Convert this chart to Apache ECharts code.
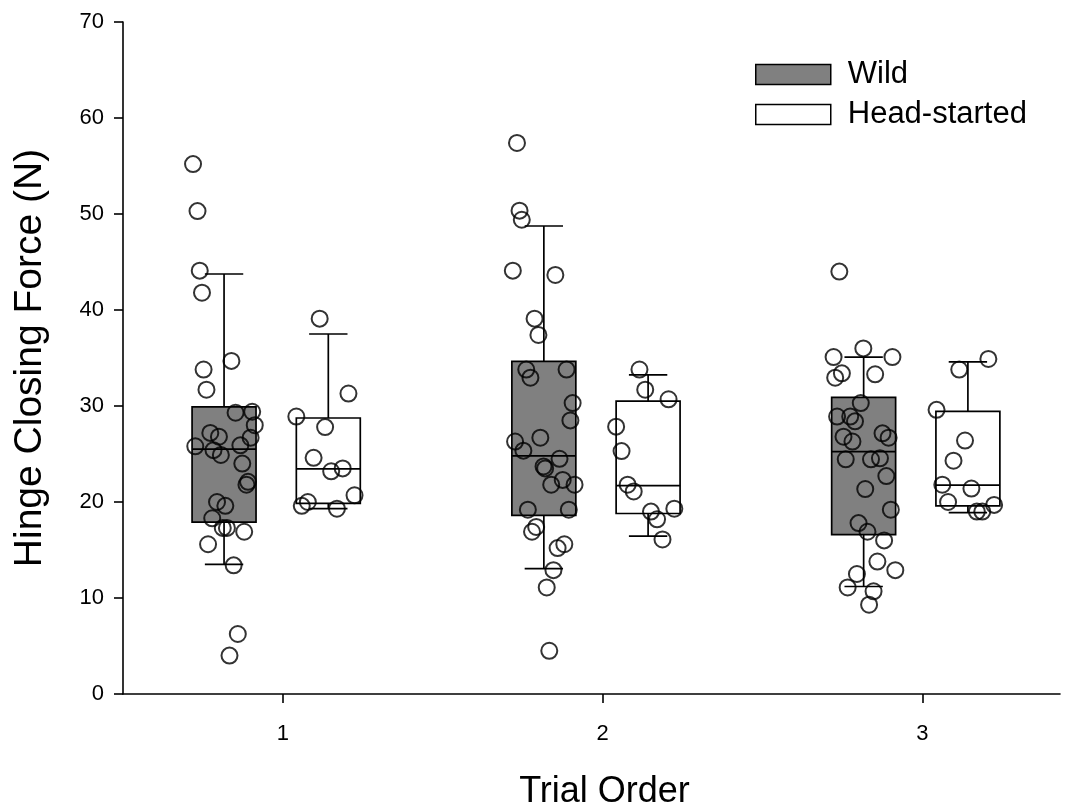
<!DOCTYPE html>
<html><head><meta charset="utf-8">
<script src="https://cdn.jsdelivr.net/npm/echarts@6/dist/echarts.min.js"></script>
<style>html,body{margin:0;padding:0;background:#fff}#c{width:1073px;height:810px}</style>
</head><body><div id="c"></div>
<script>
// ---- data ----
const trials = [1, 2, 3];
const seriesNames = ['Wild', 'Head-started'];
// box stats per trial: [low whisker, Q1, median, Q3, high whisker]
const wildBox = [
  [13.5, 17.9, 25.5, 29.9, 43.75],
  [13.05, 18.6, 24.8, 34.65, 48.75],
  [11.2, 16.6, 25.25, 30.9, 35.1]
];
const headBox = [
  [19.3, 19.85, 23.45, 28.75, 37.5],
  [16.45, 18.8, 21.7, 30.5, 33.25],
  [18.9, 19.6, 21.75, 29.45, 34.6]
];
// individual observations: [jittered trial position, force (N)]
const wild1 = [[0.719,55.2],[0.733,50.3],[0.740,44.1],[0.747,41.8],[0.839,34.7],[0.752,33.8],[0.761,31.7],
  [0.852,29.3],[0.904,29.4],[0.912,28.0],[0.773,27.2],[0.800,26.8],[0.899,26.7],[0.726,25.8],[0.867,25.9],
  [0.783,25.4],[0.806,24.9],[0.873,24.0],[0.891,22.1],[0.886,21.8],[0.794,20.0],[0.820,19.6],[0.779,18.3],
  [0.812,17.3],[0.825,17.3],[0.879,16.9],[0.766,15.6],[0.846,13.4],[0.859,6.25],[0.833,4.0]];
const head1 = [[1.115,39.1],[1.205,31.3],[1.042,28.9],[1.132,27.8],[1.096,24.6],[1.187,23.5],[1.151,23.2],
  [1.224,20.7],[1.078,20.0],[1.059,19.6],[1.169,19.3]];
const wild2 = [[1.732,57.4],[1.740,50.35],[1.747,49.4],[1.719,44.1],[1.852,43.65],[1.787,39.1],[1.799,37.4],
  [1.761,33.8],[1.774,32.95],[1.887,33.8],[1.906,30.3],[1.899,28.5],[1.805,26.7],[1.726,26.3],[1.752,25.35],
  [1.865,24.5],[1.815,23.7],[1.820,23.5],[1.875,22.3],[1.839,21.8],[1.912,21.8],[1.766,19.2],[1.894,19.2],
  [1.792,17.4],[1.779,16.9],[1.880,15.6],[1.859,15.2],[1.846,12.9],[1.825,11.1],[1.833,4.5]];
const head2 = [[2.115,33.8],[2.133,31.7],[2.206,30.7],[2.042,27.85],[2.059,25.3],[2.078,21.8],[2.097,21.1],
  [2.151,19.0],[2.170,18.2],[2.224,19.3],[2.187,16.1]];
const wild3 = [[2.740,44.0],[2.722,35.1],[2.815,36.0],[2.906,35.1],[2.748,33.4],[2.727,32.95],[2.852,33.3],
  [2.807,30.3],[2.733,28.9],[2.774,28.9],[2.789,28.4],[2.875,27.15],[2.894,26.7],[2.753,26.8],[2.781,26.3],
  [2.760,24.45],[2.839,24.45],[2.867,24.55],[2.887,22.7],[2.821,21.35],[2.901,19.2],[2.800,17.8],[2.828,16.9],
  [2.880,16.0],[2.859,13.8],[2.915,12.9],[2.795,12.5],[2.766,11.1],[2.847,10.7],[2.833,9.3]];
const head3 = [[3.206,34.9],[3.115,33.8],[3.044,29.6],[3.133,26.4],[3.097,24.3],[3.062,21.8],[3.153,21.4],
  [3.080,20.0],[3.224,19.7],[3.170,19.0],[3.187,19.0]];

// ---- layout constants ----
const WILD_OFF = -0.184, HEAD_OFF = 0.142, BOX_W = 0.2, CAP_W = 0.12;
const FONT = '"Liberation Sans", Arial, sans-serif';

const wildBoxData = trials.map((t, i) => [t + WILD_OFF].concat(wildBox[i]));
const headBoxData = trials.map((t, i) => [t + HEAD_OFF].concat(headBox[i]));

function boxRender(params, api) {
  const x = api.value(0);
  const p = i => api.coord([x, api.value(i)]);
  const lo = p(1), q1 = p(2), med = p(3), q3 = p(4), hi = p(5);
  const hw = api.size([BOX_W, 0])[0] / 2;
  const cw = api.size([CAP_W, 0])[0] / 2;
  const cx = lo[0];
  const ls = { stroke: '#000', lineWidth: 1.7 };
  const fill = api.visual('color');
  return {
    type: 'group',
    children: [
      { type: 'line', shape: { x1: cx, y1: q3[1], x2: cx, y2: hi[1] }, style: ls },
      { type: 'line', shape: { x1: cx, y1: q1[1], x2: cx, y2: lo[1] }, style: ls },
      { type: 'line', shape: { x1: cx - cw, y1: hi[1], x2: cx + cw, y2: hi[1] }, style: ls },
      { type: 'line', shape: { x1: cx - cw, y1: lo[1], x2: cx + cw, y2: lo[1] }, style: ls },
      { type: 'rect', shape: { x: cx - hw, y: q3[1], width: hw * 2, height: q1[1] - q3[1] },
        style: { fill: fill, stroke: '#000', lineWidth: 1.7 } },
      { type: 'line', shape: { x1: cx - hw, y1: med[1], x2: cx + hw, y2: med[1] }, style: ls }
    ]
  };
}

const pointStyle = { color: 'rgba(0,0,0,0)', borderColor: '#000', borderWidth: 2 };

const chart = echarts.init(document.getElementById('c'), null, { renderer: 'canvas' });
chart.setOption({
  animation: false,
  backgroundColor: '#fff',
  textStyle: { fontFamily: FONT },
  grid: { left: 123, right: 13, top: 22, bottom: 116, containLabel: false, outerBoundsMode: 'none' },
  legend: {
    orient: 'vertical', left: 755, top: 59, padding: 0, itemWidth: 75, itemHeight: 20, itemGap: 9,
    icon: 'rect',
    textStyle: { fontSize: 31, color: '#000', fontFamily: FONT, padding: [0, 0, 0, 12] },
    data: [
      { name: 'Wild', itemStyle: { color: '#808080', borderColor: '#000', borderWidth: 1.5 } },
      { name: 'Head-started', itemStyle: { color: '#ffffff', borderColor: '#000', borderWidth: 1.5 } }
    ]
  },
  xAxis: {
    type: 'value', min: 0.5, max: 3.43,
    name: 'Trial Order', nameLocation: 'middle', nameGap: 80,
    nameTextStyle: { fontSize: 36, color: '#000', fontFamily: FONT, padding: [0, 0, 0, 26] },
    axisLine: { show: true, onZero: false, lineStyle: { color: '#000', width: 1.6 } },
    axisTick: { show: true, length: 9, customValues: trials, lineStyle: { color: '#000', width: 1.6 } },
    axisLabel: { customValues: trials, fontSize: 22, color: '#000', margin: 29, fontFamily: FONT },
    splitLine: { show: false }
  },
  yAxis: {
    type: 'value', min: 0, max: 70, interval: 10,
    name: 'Hinge Closing Force (N)', nameLocation: 'middle', nameGap: 73, nameRotate: 90,
    nameTextStyle: { fontSize: 39, color: '#000', fontFamily: FONT },
    axisLine: { show: true, lineStyle: { color: '#000', width: 1.6 } },
    axisTick: { show: true, length: 9, lineStyle: { color: '#000', width: 1.6 } },
    axisLabel: { fontSize: 22, color: '#000', margin: 19, fontFamily: FONT },
    splitLine: { show: false }
  },
  series: [
    { name: seriesNames[0], type: 'custom', renderItem: boxRender, data: wildBoxData,
      itemStyle: { color: '#808080' }, encode: { x: 0, y: [1, 2, 3, 4, 5] }, z: 2 },
    { name: seriesNames[1], type: 'custom', renderItem: boxRender, data: headBoxData,
      itemStyle: { color: '#ffffff' }, encode: { x: 0, y: [1, 2, 3, 4, 5] }, z: 2 },
    { name: 'Wild points', type: 'scatter', symbol: 'circle', symbolSize: 16, z: 5,
      data: wild1.concat(wild2, wild3), itemStyle: pointStyle },
    { name: 'Head-started points', type: 'scatter', symbol: 'circle', symbolSize: 16, z: 5,
      data: head1.concat(head2, head3), itemStyle: pointStyle }
  ]
});
</script>
</body></html>
